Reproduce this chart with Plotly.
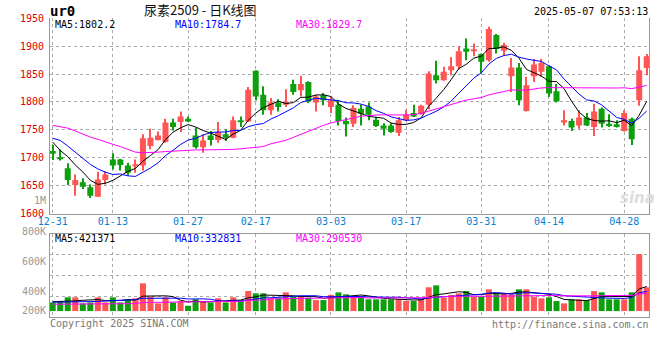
import numpy as np
import pandas as pd
import plotly.graph_objects as go

# ---------------- data ----------------
dates = ["12-31", "01-02", "01-03", "01-06", "01-07", "01-08", "01-09", "01-10",
         "01-13", "01-14", "01-15", "01-16", "01-17", "01-20", "01-21", "01-22",
         "01-23", "01-24", "01-27", "02-05", "02-06", "02-07", "02-10", "02-11",
         "02-12", "02-13", "02-14", "02-17", "02-18", "02-19", "02-20", "02-21",
         "02-24", "02-25", "02-26", "02-27", "02-28", "03-03", "03-04", "03-05",
         "03-06", "03-07", "03-10", "03-11", "03-12", "03-13", "03-14", "03-17",
         "03-18", "03-19", "03-20", "03-21", "03-24", "03-25", "03-26", "03-27",
         "03-28", "03-31", "04-01", "04-02", "04-03", "04-07", "04-08", "04-09",
         "04-10", "04-11", "04-14", "04-15", "04-16", "04-17", "04-18", "04-21",
         "04-22", "04-23", "04-24", "04-25", "04-28", "04-29", "04-30", "05-06"]

opens = [1712, 1701, 1681, 1651, 1656, 1647, 1630, 1660, 1697, 1697,
         1686, 1685, 1686, 1721, 1732, 1728, 1763, 1764, 1770, 1740,
         1719, 1740, 1732, 1742, 1736, 1766, 1765, 1856, 1813, 1785,
         1799, 1795, 1832, 1821, 1836, 1799, 1812, 1791, 1795, 1766,
         1761, 1788, 1792, 1768, 1758, 1758, 1745, 1767, 1780, 1779,
         1795, 1848, 1839, 1857, 1864, 1896, 1891, 1886, 1875, 1920,
         1892, 1846, 1862, 1784, 1846, 1854, 1864, 1819, 1763, 1766,
         1758, 1772, 1755, 1788, 1761, 1760, 1748, 1770, 1803, 1861]
highs = [1723, 1715, 1690, 1670, 1663, 1652, 1675, 1676, 1708, 1698,
         1691, 1697, 1742, 1752, 1747, 1770, 1770, 1783, 1774, 1754,
         1742, 1748, 1764, 1751, 1774, 1774, 1827, 1857, 1828, 1807,
         1805, 1823, 1840, 1847, 1837, 1813, 1816, 1810, 1804, 1772,
         1794, 1795, 1799, 1773, 1762, 1762, 1773, 1786, 1795, 1795,
         1855, 1874, 1863, 1880, 1900, 1914, 1905, 1887, 1935, 1922,
         1906, 1879, 1870, 1845, 1877, 1877, 1866, 1832, 1785, 1770,
         1785, 1780, 1797, 1790, 1778, 1767, 1785, 1772, 1882, 1886]
lows = [1696, 1695, 1651, 1632, 1644, 1628, 1630, 1652, 1679, 1677,
        1668, 1673, 1677, 1715, 1731, 1727, 1749, 1746, 1764, 1716,
        1709, 1722, 1727, 1730, 1735, 1755, 1764, 1803, 1777, 1777,
        1783, 1791, 1813, 1810, 1798, 1783, 1794, 1780, 1758, 1738,
        1755, 1758, 1767, 1755, 1740, 1745, 1739, 1766, 1773, 1777,
        1787, 1833, 1838, 1848, 1858, 1875, 1882, 1852, 1872, 1887,
        1883, 1818, 1794, 1783, 1836, 1845, 1809, 1799, 1758, 1748,
        1752, 1757, 1739, 1754, 1755, 1754, 1747, 1723, 1793, 1848]
closes = [1707, 1698, 1660, 1660, 1648, 1632, 1661, 1670, 1686, 1687,
          1673, 1688, 1735, 1736, 1740, 1763, 1755, 1774, 1765, 1719,
          1731, 1732, 1746, 1736, 1767, 1765, 1822, 1810, 1785, 1799,
          1791, 1801, 1818, 1832, 1801, 1810, 1803, 1803, 1766, 1760,
          1789, 1779, 1777, 1757, 1752, 1746, 1767, 1777, 1774, 1793,
          1851, 1839, 1854, 1864, 1891, 1890, 1894, 1872, 1931, 1895,
          1902, 1862, 1803, 1830, 1867, 1870, 1815, 1801, 1767, 1754,
          1772, 1758, 1783, 1761, 1757, 1755, 1780, 1733, 1857, 1882]
volumes_k = [146, 169, 232, 232, 130, 146, 232, 146, 232, 146,
             198, 215, 468, 242, 130, 232, 146, 169, 90, 198,
             169, 146, 215, 146, 232, 186, 338, 299, 299, 215,
             215, 316, 242, 242, 226, 186, 186, 271, 316, 282,
             242, 242, 198, 198, 198, 198, 198, 169, 169, 215,
             401, 434, 226, 271, 299, 338, 242, 242, 367, 299,
             299, 282, 367, 367, 242, 215, 232, 169, 130, 198,
             198, 186, 338, 316, 198, 198, 198, 316, 960, 401]

# moving-average values before enough bars exist
ma5_head = [1728, 1713, 1702, 1687]
ma10_head = [1735, 1731, 1721, 1710, 1700, 1688, 1680, 1674, 1670]
ma30_head = [1758, 1756, 1753, 1748, 1742, 1737, 1733, 1728, 1724, 1720,
             1715, 1710, 1709, 1709, 1710, 1711, 1712, 1713, 1714, 1714,
             1714, 1714, 1714, 1715, 1715, 1716, 1717, 1719, 1720]
vma5_head = [158, 160, 165, 172]
vma10_head = [150, 150, 152, 155, 158, 160, 163, 166, 170]
vma30_head = [115, 115, 115, 115, 115, 122, 124, 124, 124, 124,
              124, 126, 145, 146, 147, 147, 147, 155, 158, 158,
              158, 158, 158, 158, 160, 165, 182, 185, 187]

tick_labels = ["12-31", "01-13", "01-27", "02-17", "03-03", "03-17", "03-31", "04-14", "04-28"]
price_ticks = [1600, 1650, 1700, 1750, 1800, 1850, 1900, 1950]
vol_tick_labels = ["1M", "800K", "600K", "400K", "200K"]

price_legend = ["MA5:1802.2", "MA10:1784.7", "MA30:1829.7"]
vol_legend = ["MA5:421371", "MA10:332831", "MA30:290530"]
title_code = "ur0"
title_text = "尿素2509 - 日K线图"
stamp_text = "2025-05-07 07:53:13"
footer_left = "Copyright 2025 SINA.COM"
footer_right = "http://finance.sina.com.cn"

# ---------------- derived ----------------
o = np.array(opens, float)
h = np.array(highs, float)
l = np.array(lows, float)
c = np.array(closes, float)
v = np.array(volumes_k, float) * 1000
idx = np.arange(len(dates))
up = c >= o
RED = "#ff5555"
GREEN = "#0e9f0e"
colors = [RED if u else GREEN for u in up]


def moving(values, n, head):
    s = pd.Series(values, dtype=float).rolling(n).mean()
    s.iloc[:n - 1] = head
    return s.values


ma5 = moving(c, 5, ma5_head)
ma10 = moving(c, 10, ma10_head)
ma30 = moving(c, 30, ma30_head)
vma5 = moving(v, 5, [x * 1000 for x in vma5_head])
vma10 = moving(v, 10, [x * 1000 for x in vma10_head])
vma30 = moving(v, 30, [x * 1000 for x in vma30_head])

MA_COLORS = ["#000000", "#0000ff", "#ff00ff"]
MONO = "DejaVu Sans Mono"

W, H = 660, 360
L_PX, R_PX = 50, 649
MAIN_TOP, MAIN_BOT = 18.3, 213.5
VOL_TOP, VOL_BOT = 234, 317


def px(x):
    return x / W


def py(y):
    return 1 - y / H


fig = go.Figure()

# price candles: wicks then bodies
fig.add_trace(go.Bar(x=idx, y=h - l, base=l, width=0.14, marker=dict(color=colors, line=dict(width=0)),
                     xaxis="x", yaxis="y"))
body = np.maximum(np.abs(c - o), 1.3)
fig.add_trace(go.Bar(x=idx, y=body, base=np.minimum(o, c), width=0.8,
                     marker=dict(color=colors, line=dict(width=0)), xaxis="x", yaxis="y"))
for ser, col in zip([ma5, ma10, ma30], MA_COLORS):
    fig.add_trace(go.Scatter(x=idx, y=ser, mode="lines", line=dict(color=col, width=1),
                             xaxis="x", yaxis="y"))

# volume
fig.add_trace(go.Bar(x=idx, y=v, width=0.8, marker=dict(color=colors, line=dict(width=0)),
                     xaxis="x2", yaxis="y2"))
for ser, col in zip([vma5, vma10, vma30], MA_COLORS):
    fig.add_trace(go.Scatter(x=idx, y=ser, mode="lines", line=dict(color=col, width=1),
                             xaxis="x2", yaxis="y2"))

tickvals = [dates.index(t) for t in tick_labels]
grid = dict(showgrid=True, gridcolor="#aaaaaa", griddash="dot", gridwidth=1, zeroline=False,
            automargin=False)
xr = [-0.36, len(dates) - 0.7]
vol_range = [-100000, 1300000]
vol_grid = [vol_range[0] + k * (vol_range[1] - vol_range[0]) / 4 for k in (1, 2, 3)]

fig.update_layout(
    template="none",
    width=W, height=H, margin=dict(l=0, r=0, t=0, b=0, pad=0), autosize=False,
    paper_bgcolor="white", plot_bgcolor="white",
    showlegend=False, barmode="overlay", hovermode=False,
    xaxis=dict(domain=[px(L_PX), px(R_PX)], range=xr, anchor="y",
               tickmode="array", tickvals=tickvals, ticktext=tick_labels,
               tickfont=dict(family=MONO, size=10, color="#0a80d0"),
               showline=True, linecolor="#999999", ticks="", ticklabelstandoff=-2, **grid),
    yaxis=dict(domain=[py(MAIN_BOT), py(MAIN_TOP)], range=[1600, 1950], anchor="x",
               tickmode="array", tickvals=price_ticks,
               tickfont=dict(family=MONO, size=10, color="#e00000"),
               showline=True, mirror=True, linecolor="#999999", ticks="", ticklabelstandoff=3, **grid),
    xaxis2=dict(domain=[px(L_PX), px(R_PX)], range=xr, anchor="y2", matches="x",
                tickmode="array", tickvals=tickvals, showticklabels=False,
                showline=True, mirror=True, linecolor="#999999", ticks="", **grid),
    yaxis2=dict(domain=[py(VOL_BOT), py(VOL_TOP)], range=vol_range, anchor="x2",
                tickmode="array", tickvals=vol_grid, showticklabels=False,
                showline=True, mirror=True, linecolor="#999999", ticks="", **grid),
)

ann = []


def text(x, y, s, color="#000", size=10, family=MONO, xanchor="left", **kw):
    ann.append(dict(x=px(x), y=py(y), xref="paper", yref="paper", text=s, showarrow=False,
                    xanchor=xanchor, yanchor="middle", borderpad=0,
                    font=dict(family=family, size=size, color=color), **kw))


text(49, 10.5, "<b>" + title_code + "</b>", size=14)
text(200, 9.5, title_text, size=13, family="Noto Sans CJK SC", xanchor="center", color="#111")
text(649, 12, stamp_text, size=10, xanchor="right")
for s, col, x in zip(price_legend, MA_COLORS, [54, 174, 295]):
    text(x, 24.5, s, color=col)
for s, col, x in zip(vol_legend, MA_COLORS, [54, 174, 295]):
    text(x, 238.5, s, color=col)
for s, y in zip(vol_tick_labels, [200.7, 231.5, 261, 291, 310]):
    text(47, y, s, color="#999999", xanchor="right")
text(49, 323.5, footer_left, color="#777777")
text(650, 324, footer_right, color="#777777", xanchor="right")
text(637, 198, "<b><i>sina</i></b>", color="#dddddd", size=15, family="DejaVu Sans", xanchor="center")
fig.update_layout(annotations=ann)

fig.write_html("out.html")
